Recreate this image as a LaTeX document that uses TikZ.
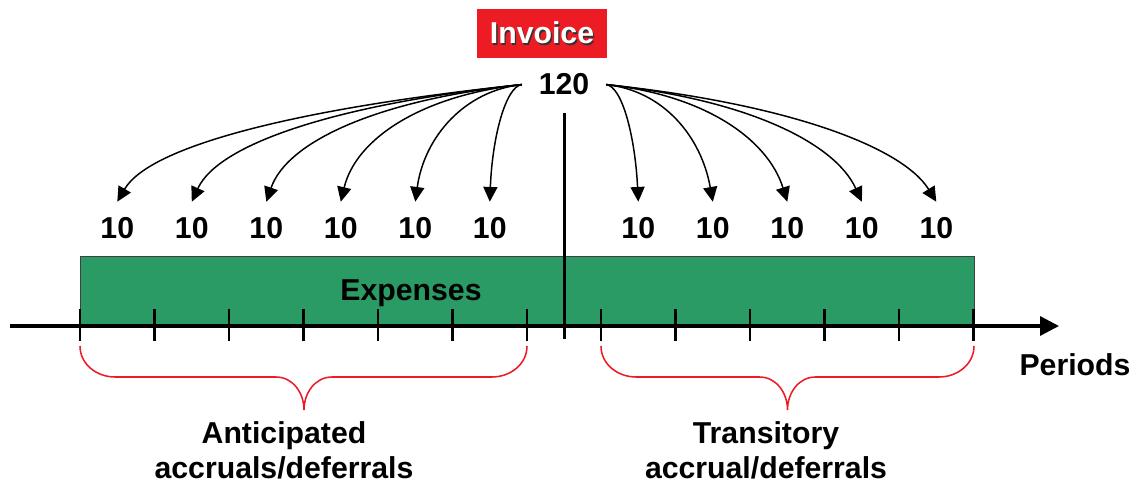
\documentclass[tikz,border=0pt]{standalone}
\usepackage{fontspec}
\setmainfont{Liberation Sans}
\usetikzlibrary{arrows.meta,positioning}
\definecolor{bargreen}{RGB}{42,155,101}
\definecolor{invoicered}{RGB}{237,28,36}
\newcommand{\shadowed}[1]{\makebox[0pt][l]{\hspace{1pt}\raisebox{-1pt}{\color{black!80}#1}}#1}
\tikzset{
  txt/.style={font=\fontsize{21.5}{24.7}\selectfont\bfseries, inner sep=0pt},
  share/.style={txt, anchor=base, outer ysep=11pt},
  invoice/.style={txt, fill=invoicered, text=white, minimum width=92.5pt, minimum height=34.9pt},
  axis/.style={-{Triangle[length=13.5pt, width=13.5pt]}, line width=2.3pt},
  tick/.style={line width=2.1pt},
  divider/.style={line width=2.3pt},
  bar/.style={fill=bargreen, draw=black!75, line width=0.7pt},
  flow/.style={-{Triangle[length=10.5pt, width=10pt]}, line width=1.05pt},
  red brace/.style={draw=invoicered, line width=1.1pt},
}

\begin{document}
\begin{tikzpicture}[x=0.025cm, y=-0.025cm]
  \useasboundingbox (0,0) rectangle (1136,486);

  % Invoice and total
  \node[invoice] (invoice) at (542,33.5) {\shadowed{Invoice}};
  \node[txt, anchor=base, outer xsep=12pt] (total) at (564,95) {120};

  % Expense bar
  \draw[bar] (80,256) rectangle (974,326);
  \node[txt, anchor=base] (expenses) at (411,300.7) {Expenses};

  % Time axis
  \coordinate (start) at (10,326);
  \coordinate (end) at (1059,326);
  \draw[axis] (start) -- (end);
  \node[txt, anchor=base] (periods) at (1075,375) {Periods};

  % Ticks
  \foreach \x in {0,...,6}
    \draw[tick] ({80+74.5*\x},309) -- ({80+74.5*\x},341);
  \foreach \x in {0,...,5}
    \draw[tick] ({601+74.5*\x},309) -- ({601+74.5*\x},341);

  % Invoice date
  \draw[divider] (564.5,113) -- (564.5,339);

  % Shares before the invoice
  \foreach \i in {0,...,5} {
    \pgfmathsetmacro{\xa}{117.3+74.5*\i}
    \pgfmathsetmacro{\dx}{(519-\xa)/100}
    \pgfmathsetmacro{\dist}{sqrt(\dx*\dx+1.17*1.17)}
    \pgfmathsetmacro{\lout}{1.41*\dx/\dist}
    \pgfmathsetmacro{\lin}{1.41*1.17/\dist}
    \pgfmathsetmacro{\ain}{90-30*\dx/4}
    \node[share] (l\i) at (\xa,238.3) {10};
    \draw[flow] (total.west) to[out=186, in=\ain, out looseness=\lout, in looseness=\lin] (l\i.north);
  }

  % Shares after the invoice
  \foreach \i in {0,...,4} {
    \pgfmathsetmacro{\xa}{638.3+74.5*\i}
    \pgfmathsetmacro{\dx}{(\xa-609)/100}
    \pgfmathsetmacro{\dist}{sqrt(\dx*\dx+1.17*1.17)}
    \pgfmathsetmacro{\lout}{1.41*\dx/\dist}
    \pgfmathsetmacro{\lin}{1.41*1.17/\dist}
    \pgfmathsetmacro{\ain}{90+32*\dx/3.3}
    \node[share] (r\i) at (\xa,238.3) {10};
    \draw[flow] (total.east) to[out=-6, in=\ain, out looseness=\lout, in looseness=\lin] (r\i.north);
  }

  % Braces
  \foreach \a/\m/\b in {80/304/527, 601/787.5/974}
    \draw[red brace] (\a,346) to[out=-90, in=180] (\a+35,377) -- (\m-28,377)
      to[out=0, in=90] (\m,410) to[out=90, in=180] (\m+28,377) -- (\b-35,377)
      to[out=0, in=-90] (\b,346);

  % Labels
  \node[txt, align=center] (anticipated) at (284,450) {Anticipated\\accruals/deferrals};
  \node[txt, align=center] (transitory) at (766,450) {Transitory\\accrual/deferrals};
\end{tikzpicture}
\end{document}
